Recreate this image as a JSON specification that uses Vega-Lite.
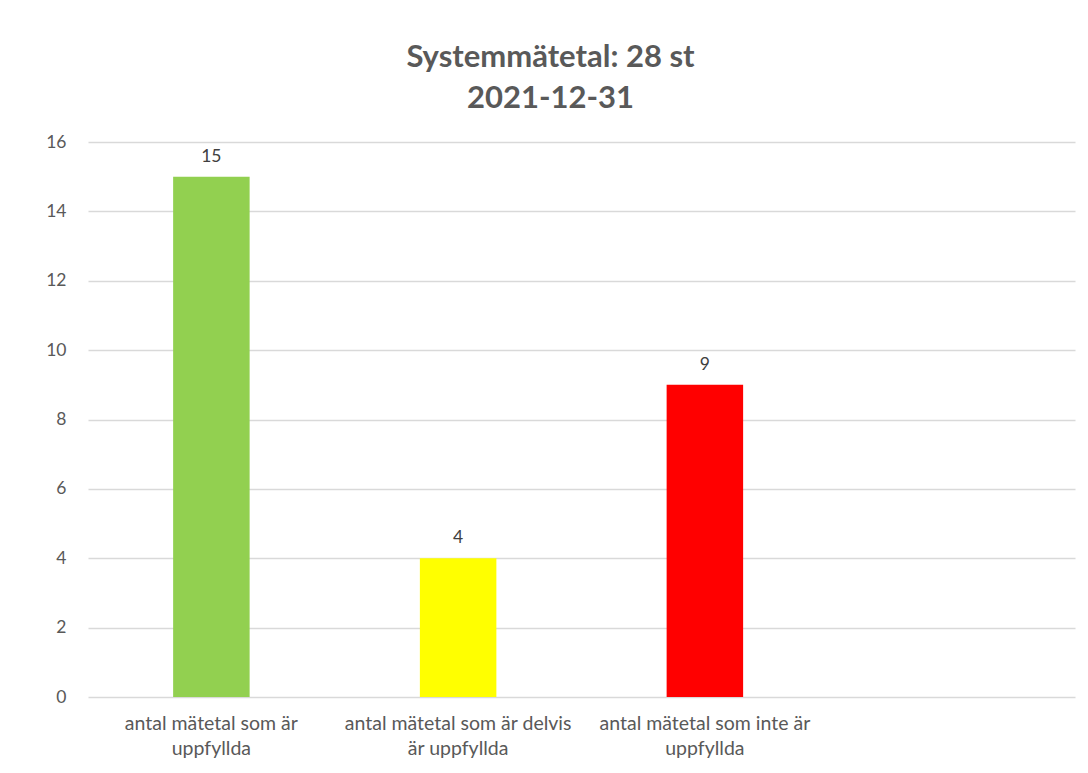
{
  "$schema": "https://vega.github.io/schema/vega-lite/v6.json",
  "width": 987,
  "height": 555,
  "autosize": {"type": "none"},
  "padding": {"left": 88, "top": 142, "right": 13, "bottom": 76},
  "background": "white",
  "title": {
    "text": ["Systemmätetal: 28 st", "2021-12-31"],
    "font": "Lato",
    "fontSize": 31,
    "fontWeight": "bold",
    "color": "#595959",
    "anchor": "middle",
    "lineHeight": 41,
    "dx": -31,
    "offset": 18
  },
  "data": {
    "values": [
      {"kategori": "antal mätetal som är|uppfyllda", "antal": 15, "farg": "#92D050"},
      {"kategori": "antal mätetal som är delvis|är uppfyllda", "antal": 4, "farg": "#FFFF00"},
      {"kategori": "antal mätetal som inte är|uppfyllda", "antal": 9, "farg": "#FF0000"}
    ]
  },
  "encoding": {
    "x": {
      "field": "kategori",
      "type": "nominal",
      "sort": null,
      "scale": {
        "domain": ["antal mätetal som är|uppfyllda", "antal mätetal som är delvis|är uppfyllda", "antal mätetal som inte är|uppfyllda", "tom"],
        "paddingInner": 0.69,
        "paddingOuter": 0.345
      },
      "axis": {
        "title": null,
        "labelAngle": 0,
        "labelExpr": "datum.value == 'tom' ? '' : split(datum.value, '|')",
        "labelFont": "Lato",
        "labelFontSize": 19.5,
        "labelColor": "#595959",
        "labelLineHeight": 25,
        "labelPadding": 17,
        "labelBaseline": "top",
        "labelLimit": 400,
        "ticks": false,
        "domain": false,
        "grid": false
      }
    },
    "y": {
      "field": "antal",
      "type": "quantitative",
      "scale": {"domain": [0, 16]},
      "axis": {
        "title": null,
        "values": [0, 2, 4, 6, 8, 10, 12, 14, 16],
        "labelFont": "Lato",
        "labelFontSize": 17.5,
        "labelColor": "#595959",
        "labelPadding": 22,
        "ticks": false,
        "domain": false,
        "grid": true,
        "gridColor": "#d9d9d9",
        "gridWidth": 1.3
      }
    }
  },
  "layer": [
    {
      "mark": {"type": "bar"},
      "encoding": {
        "color": {"field": "farg", "type": "nominal", "scale": null}
      }
    },
    {
      "mark": {"type": "text", "baseline": "bottom", "dy": -11, "font": "Lato", "fontSize": 17.5, "color": "#404040"},
      "encoding": {"text": {"field": "antal", "type": "quantitative"}}
    }
  ],
  "config": {"view": {"stroke": null}}
}
